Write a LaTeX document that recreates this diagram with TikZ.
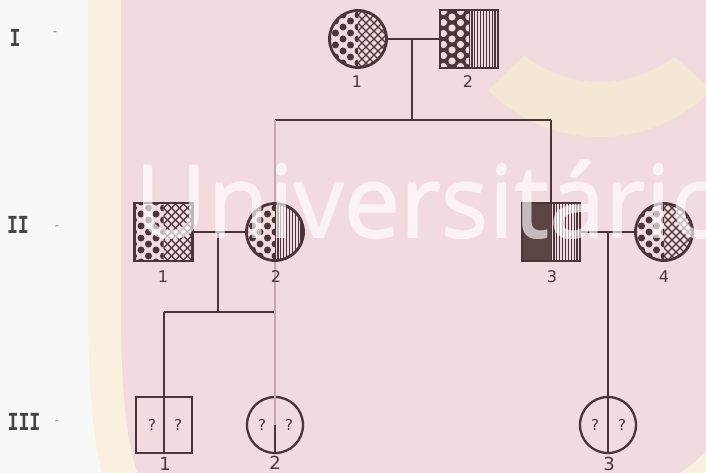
\documentclass[tikz,border=0pt]{standalone}
\usepackage{fontspec}
\setmainfont{DejaVu Sans}
\newfontfamily\genfont{Liberation Mono}
\newfontfamily\wmfont{Open Sans}
\usetikzlibrary{calc}

\definecolor{ink}{HTML}{4A3636}
\definecolor{inksolid}{HTML}{5A4444}
\definecolor{faintink}{HTML}{C4A8AB}
\definecolor{paperwhite}{HTML}{F8F8F8}
\definecolor{bandyellow}{HTML}{FAF0DF}
\definecolor{bgpink}{HTML}{F2DBDE}
\definecolor{arcyellow}{HTML}{F4E8D4}
\definecolor{genink}{HTML}{444444}

\newcommand{\patdots}{%
  \foreach \i in {-5,...,5}{\foreach \j in {-4,...,4}{%
    \pgfmathsetmacro{\yy}{\j*12+6*abs(mod(\i,2))}
    \fill[ink] ([shift={(\i*7.5,\yy)}]path picture bounding box.center) circle[radius=3.5pt];}}}
\newcommand{\patrings}{%
  \fill[ink] (path picture bounding box.south west) rectangle (path picture bounding box.north east);
  \foreach \i in {-5,...,5}{\foreach \j in {-4,...,4}{%
    \pgfmathsetmacro{\yy}{\j*11+5.5*abs(mod(\i,2))}
    \fill[bgpink] ([shift={(\i*8.5,\yy)}]path picture bounding box.center) circle[radius=3.6pt];}}}
\newcommand{\patcross}{%
  \foreach \k in {-10,...,10}{%
    \draw[ink,line width=1.3pt] ([shift={(\k*8-40,-40)}]path picture bounding box.center) -- ([shift={(\k*8+40,40)}]path picture bounding box.center);
    \draw[ink,line width=1.3pt] ([shift={(\k*8-40,40)}]path picture bounding box.center) -- ([shift={(\k*8+40,-40)}]path picture bounding box.center);}}
\newcommand{\patvlines}{%
  \foreach \k in {-12,...,12}{%
    \draw[ink,line width=1.3pt] ([shift={(\k*2.9,-40)}]path picture bounding box.center) -- ([shift={(\k*2.9,40)}]path picture bounding box.center);}}
\newcommand{\patsolid}{%
  \fill[inksolid] (path picture bounding box.south west) rectangle (path picture bounding box.north east);}

\tikzset{
  halves/.style 2 args={path picture={
    \begin{scope}
      \clip (path picture bounding box.north west) rectangle (path picture bounding box.south);
      \csname pat#1\endcsname
    \end{scope}
    \begin{scope}
      \clip (path picture bounding box.north) rectangle (path picture bounding box.south east);
      \csname pat#2\endcsname
    \end{scope}}},
  indcirc/.style={circle, draw=ink, line width=2.8pt, minimum size=57pt, inner sep=0pt},
  indsq/.style={rectangle, draw=ink, line width=2.8pt, minimum size=58pt, inner sep=0pt},
  unkcirc/.style={circle, draw=ink, line width=2.3pt, minimum size=56pt, inner sep=0pt},
  unksq/.style={rectangle, draw=ink, line width=2.3pt, minimum size=56pt, inner sep=0pt},
  conn/.style={draw=ink, line width=2.8pt},
  faintconn/.style={draw=faintink, line width=1.5pt},
  numlab/.style={text=ink, font=\fontsize{16}{16}\selectfont, inner sep=0pt},
  numlabbig/.style={text=ink, font=\fontsize{18}{18}\selectfont, inner sep=0pt},
  qlab/.style={text=ink, font=\fontsize{15}{15}\selectfont, inner sep=0pt},
  genlab/.style={text=genink, inner sep=0pt},
  dashlab/.style={text=genink!70, font=\fontsize{12}{12}\selectfont, inner sep=0pt},
  wmark/.style={anchor=base west, text=white, inner sep=0pt,
      font=\wmfont\fontsize{100}{100}\selectfont},
}

\newcommand{\gentext}[1]{\scalebox{0.7}[1]{\fontsize{26}{26}\selectfont\genfont\bfseries #1}}

\begin{document}
\begin{tikzpicture}[x=1pt,y=-1pt]
\useasboundingbox (0,0) rectangle (706,473);
% background
\fill[paperwhite] (0,0) rectangle (706,473);
\fill[bandyellow] (88,-5) -- (88,300) .. controls (88,400) and (95,450) .. (104,480) -- (720,480) -- (720,-5) -- cycle;
\fill[bgpink] (121,-5) -- (121,310) .. controls (121,400) and (128,450) .. (140,480) -- (665,480) .. controls (690,470) and (710,450) .. (720,430) -- (720,-5) -- cycle;
\fill[arcyellow] plot[domain=135.5:44.5, samples=60] ({600+157*cos(\x)},{-20+157*sin(\x)})
  -- plot[domain=52.2:128.7, samples=60] ({600+121*cos(\x)},{-39+121*sin(\x)}) -- cycle;

% generation labels
\node[genlab] (gI) at (15,38) {\gentext{I}};
\node[dashlab] (dI) at (55,34) {-};
\node[genlab] (gII) at (18,225) {\gentext{II}};
\node[dashlab] (dII) at (57,228) {-};
\node[genlab] (gIII) at (24,422) {\gentext{III}};
\node[dashlab] (dIII) at (57,423) {-};

% individuals
\node[indcirc, halves={dots}{cross}] (I1) at (358,39) {};
\node[indsq, halves={rings}{vlines}] (I2) at (469,39) {};
\node[indsq, halves={dots}{cross}] (II1) at (163.5,232) {};
\node[indcirc, halves={dots}{vlines}] (II2) at (275,232) {};
\node[indsq, halves={solid}{vlines}] (II3) at (551,232) {};
\node[indcirc, halves={dots}{cross}] (II4) at (664,232) {};
\node[unksq] (III1) at (164,425) {};
\node[unkcirc] (III2) at (275,425) {};
\node[unkcirc] (III3) at (608,425) {};

% connectors
\coordinate (Id) at (412,39);
\coordinate (Is) at (412,120);
\coordinate (IsL) at (275,120);
\coordinate (IsR) at (551,120);
\draw[conn] (I1.east) -- (I2.west);
\draw[conn] (Id) -- (Is);
\draw[conn] (IsL) -- (IsR);
\draw[conn] (IsR) -- (II3.north);
\draw[faintconn] (IsL) -- (II2.north);

\coordinate (IId) at (218,232);
\coordinate (IIs) at (218,312);
\coordinate (IIsL) at (164,312);
\coordinate (IIsR) at (275,312);
\draw[conn] (II1.east) -- (II2.west);
\draw[conn] (IId) -- (IIs);
\draw[conn] (IIsL) -- (IIsR);
\draw[conn] (IIsL) -- (III1.south);
\draw[faintconn] (II2.south) -- (IIsR);
\draw[faintconn] (IIsR) -- (III2.north);
\draw[faintconn] (III2.north) -- (III2.center);
\draw[conn, line width=2.3pt] (III2.center) -- (III2.south);

\coordinate (IIRd) at (608,232);
\draw[conn] (II3.east) -- (II4.west);
\draw[conn] (IIRd) -- (III3.north);
\draw[conn, line width=2.3pt] (III3.north) -- (III3.south);

% question marks
\node[qlab] (q1a) at (152,425) {?};
\node[qlab] (q1b) at (178,425) {?};
\node[qlab] (q2a) at (262,425) {?};
\node[qlab] (q2b) at (289,425) {?};
\node[qlab] (q3a) at (595,425) {?};
\node[qlab] (q3b) at (622,425) {?};

% numbers
\node[numlab] (nI1) at (357,82) {1};
\node[numlab] (nI2) at (468,82) {2};
\node[numlab] (nII1) at (163,277) {1};
\node[numlab] (nII2) at (276,277) {2};
\node[numlab] (nII3) at (552,277) {3};
\node[numlab] (nII4) at (664,277) {4};
\node[numlabbig] (nIII1) at (165,464) {1};
\node[numlabbig] (nIII2) at (275,463) {2};
\node[numlabbig] (nIII3) at (609,464) {3};

% watermark (thickened by overlapping copies inside one transparency group)
\begin{scope}[transparency group, opacity=0.65]
  \node[wmark] (wm) at (134,238) {Universitário};
  \node[wmark] (wmA) at (135.2,238) {Universitário};
  \node[wmark] (wmB) at (134.6,236.9) {Universitário};
\end{scope}
\end{tikzpicture}
\end{document}
